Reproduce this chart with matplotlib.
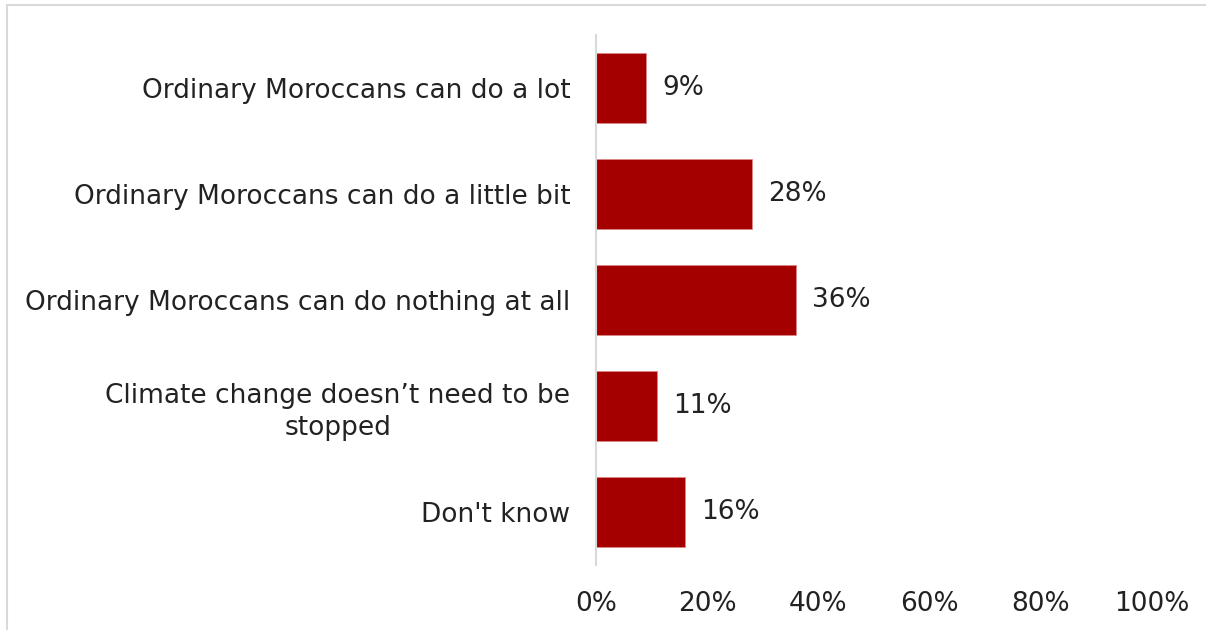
import matplotlib
matplotlib.use("Agg")
import matplotlib.pyplot as plt
from matplotlib.patches import Rectangle

categories = [
    "Ordinary Moroccans can do a lot",
    "Ordinary Moroccans can do a little bit",
    "Ordinary Moroccans can do nothing at all",
    "Climate change doesn\u2019t need to be\nstopped",
    "Don't know",
]
values = [9, 28, 36, 11, 16]
xticks = [0, 20, 40, 60, 80, 100]
xticklabels = ["0%", "20%", "40%", "60%", "80%", "100%"]

plt.rcParams['font.family'] = ['DejaVu Sans']
fig = plt.figure(figsize=(12.06, 6.30), dpi=100)
ax = fig.add_axes([596/1206, 1-565/630, (1152-596)/1206, (565-35)/630])

FS = 19
TC = '#222222'
ypos = list(range(len(categories)))
bar_color = '#A50000'
ax.barh(ypos, values, height=0.66, color=bar_color, edgecolor='#d88', linewidth=0.6)
ax.set_ylim(len(categories)-0.5, -0.5)
ax.set_xlim(0, 100)
ax.set_yticks(ypos)
ax.set_yticklabels(categories, fontsize=FS, color=TC, linespacing=1.3,
                   multialignment='center')
ax.set_xticks(xticks)
ax.set_xticklabels(xticklabels, fontsize=FS, color=TC)
ax.tick_params(axis='both', length=0)
ax.tick_params(axis='y', pad=18.5)
ax.tick_params(axis='x', pad=19)
for s in ['top', 'right', 'bottom']:
    ax.spines[s].set_visible(False)
ax.spines['left'].set_color('#d9d9d9')
ax.spines['left'].set_linewidth(1.5)

for y, v in zip(ypos, values):
    ax.text(v + 2.9, y, f"{v}%", va='center', ha='left', fontsize=FS, color=TC)

# figure border
fig.patches.append(Rectangle((7/1206, -0.05), 1.2, (625/630)+0.05, transform=fig.transFigure,
                             fill=False, edgecolor='#d9d9d9', linewidth=1.5))

fig.savefig("out.png", dpi=100)
